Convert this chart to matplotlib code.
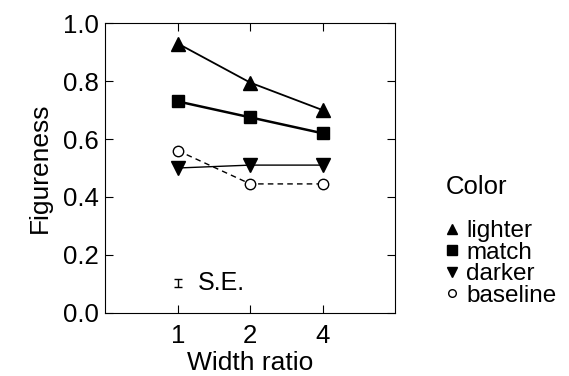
import numpy as np
import matplotlib.pyplot as plt
from matplotlib.lines import Line2D

plt.rcParams['font.family'] = ['Liberation Sans', 'DejaVu Sans']

# data
ratios = ['1', '2', '4']
lighter = [0.93, 0.795, 0.70]
match = [0.73, 0.675, 0.62]
darker = [0.50, 0.51, 0.51]
baseline = [0.56, 0.445, 0.445]
se_value = 0.103
se_err = 0.014

fig = plt.figure(figsize=(5.69, 3.76), dpi=100)
ax = fig.add_axes([0.1854, 0.1684, 0.5088, 0.7696])
x = np.arange(1, len(ratios) + 1)

ax.plot(x, lighter, color='k', lw=1.3, marker='^', ms=10)
ax.plot(x, match, color='k', lw=1.8, marker='s', ms=9)
ax.plot(x, darker, color='k', lw=1.0, marker='v', ms=10)
ax.plot(x, baseline, color='k', lw=1.0, ls=(0, (4, 3)), marker='o', ms=7.5,
        mfc='white', mec='k', mew=1.0)

ax.errorbar([1], [se_value], yerr=[se_err], color='k', lw=1.0, capsize=3, capthick=1.0)
ax.text(1.27, se_value, 'S.E.', fontsize=18, va='center', ha='left')

ax.set_xlim(0, 4)
ax.set_ylim(0, 1.0)
ax.set_xticks(x)
ax.set_xticklabels(ratios)
ax.set_yticks(np.arange(0, 1.01, 0.2))
ax.set_yticklabels(['%.1f' % v for v in np.arange(0, 1.01, 0.2)])
ax.tick_params(direction='in', top=True, right=True, length=5.8, labelsize=18.5)
ax.tick_params(axis='x', pad=8)
ax.tick_params(axis='y', pad=5)
ax.set_xlabel('Width ratio', fontsize=19, labelpad=2)
ax.set_ylabel('Figureness', fontsize=19, labelpad=8)

handles = [
    Line2D([], [], ls='none', marker='^', color='k', ms=7),
    Line2D([], [], ls='none', marker='s', color='k', ms=6.5),
    Line2D([], [], ls='none', marker='v', color='k', ms=7),
    Line2D([], [], ls='none', marker='o', mfc='white', mec='k', ms=5.5),
]
leg = ax.legend(handles, ['lighter', 'match', 'darker', 'baseline'],
                title='Color', loc='upper left', bbox_to_anchor=(1.175, 0.475),
                frameon=False, fontsize=17.5, title_fontsize=18.5,
                handlelength=0.5, handletextpad=0.35, labelspacing=-0.02,
                borderaxespad=0.0, borderpad=0.0)
leg._legend_box.align = 'left'
leg._legend_box.sep = 15

fig.savefig('out.png', dpi=100)
